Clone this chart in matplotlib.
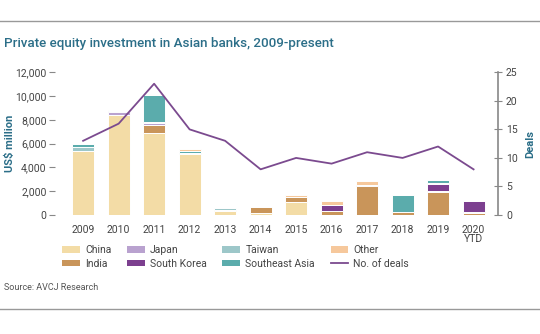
import numpy as np
import matplotlib.pyplot as plt
from matplotlib.lines import Line2D
from matplotlib.patches import Patch

plt.rcParams['font.family'] = ['Roboto', 'DejaVu Sans']

# data (US$ million)
years = ['2009', '2010', '2011', '2012', '2013', '2014', '2015', '2016',
         '2017', '2018', '2019', '2020\nYTD']
china = [5400, 8450, 6900, 5100, 300, 150, 1100, 0, 0, 0, 0, 0]
india = [0, 0, 700, 0, 120, 550, 420, 300, 2400, 220, 1950, 150]
japan = [0, 200, 150, 0, 0, 0, 0, 0, 0, 0, 100, 100]
south_korea = [0, 100, 0, 0, 0, 0, 0, 550, 150, 0, 550, 900]
taiwan = [300, 120, 100, 150, 180, 0, 0, 0, 0, 0, 100, 0]
se_asia = [250, 0, 2200, 150, 0, 0, 0, 0, 0, 1450, 250, 0]
other = [0, 0, 150, 120, 0, 0, 200, 300, 280, 0, 0, 0]
deals = [13, 16, 23, 15, 13, 8, 10, 9, 11, 10, 12, 8]

series = [('China', china, '#f3dca6'),
          ('India', india, '#c9955a'),
          ('Japan', japan, '#b9a2cf'),
          ('South Korea', south_korea, '#7c3f8f'),
          ('Taiwan', taiwan, '#9dc7c9'),
          ('Southeast Asia', se_asia, '#5bacac'),
          ('Other', other, '#f6c89c')]

title_col = '#2b6e88'
tick_col = '#444444'

fig = plt.figure(figsize=(5.4, 3.34), dpi=100)
ax = fig.add_axes([0.102, 0.3563, 0.8197, 0.4272])
x = np.arange(len(years))

bottom = np.zeros(len(years))
for name, vals, col in series:
    vals = np.array(vals, dtype=float)
    ax.bar(x, vals, width=0.62, bottom=bottom, color=col,
           edgecolor='white', linewidth=0.7)
    bottom += vals

ax.set_ylim(0, 12000)
ax.set_xlim(-0.79, 11.68)
ax.set_yticks(range(0, 12001, 2000))
ax.set_yticklabels([f'{v:,}' for v in range(0, 12001, 2000)])
ax.set_xticks(x)
ax.set_xticklabels(years, linespacing=0.95)
ax.tick_params(axis='y', colors='#888888', labelcolor=tick_col, labelsize=7.5,
               length=4, width=0.8, pad=2)
ax.tick_params(axis='x', length=0, labelsize=7.5, labelcolor=tick_col, pad=7)
for s in ['top', 'right', 'left', 'bottom']:
    ax.spines[s].set_visible(False)
ax.set_ylabel('US$ million', color=title_col, fontsize=8, fontweight='bold',
              va='center')
ax.yaxis.set_label_coords(-0.101, 0.5)

ax2 = ax.twinx()
ax2.plot(x, deals, color='#7b4a8f', linewidth=1.3)
ax2.set_ylim(0, 25)
ax2.set_yticks(range(0, 26, 5))
for s in ['top', 'left', 'bottom']:
    ax2.spines[s].set_visible(False)
ax2.spines['right'].set_color('#888888')
ax2.spines['right'].set_linewidth(1.2)
ax2.tick_params(axis='y', direction='inout', colors='#888888', labelcolor=tick_col,
                labelsize=7.5, length=6, width=0.8, pad=3)
ax2.set_ylabel('Deals', color=title_col, fontsize=8, fontweight='bold', va='center')
ax2.yaxis.set_label_coords(1.074, 0.5)

# frame lines and titles
fig.add_artist(Line2D([0, 1], [1 - 20.5 / 334] * 2, color='#999999', lw=1))
fig.add_artist(Line2D([0, 1], [1 - 308.5 / 334] * 2, color='#999999', lw=1))
fig.text(4 / 540, 1 - 44 / 334, 'Private equity investment in Asian banks, 2009-present',
         color=title_col, fontsize=9.6, fontweight='medium', va='center', ha='left')
fig.text(4 / 540, 1 - 288 / 334, 'Source: AVCJ Research', color='#555555',
         fontsize=6.5, va='center', ha='left')

handles = [Patch(facecolor=c, label=n) for n, v, c in series]
handles.append(Line2D([], [], color='#7b4a8f', lw=1.3, label='No. of deals'))
leg = fig.legend(handles=handles, ncol=4,
                 loc='upper left', bbox_to_anchor=(62 / 540, 1 - 245 / 334),
                 frameon=False, fontsize=7.5, handlelength=1.7, handleheight=0.6,
                 columnspacing=1.5, handletextpad=0.5, labelspacing=0.35,
                 borderaxespad=0, borderpad=0)
for t in leg.get_texts():
    t.set_color(tick_col)

fig.savefig('out.png', dpi=100)
